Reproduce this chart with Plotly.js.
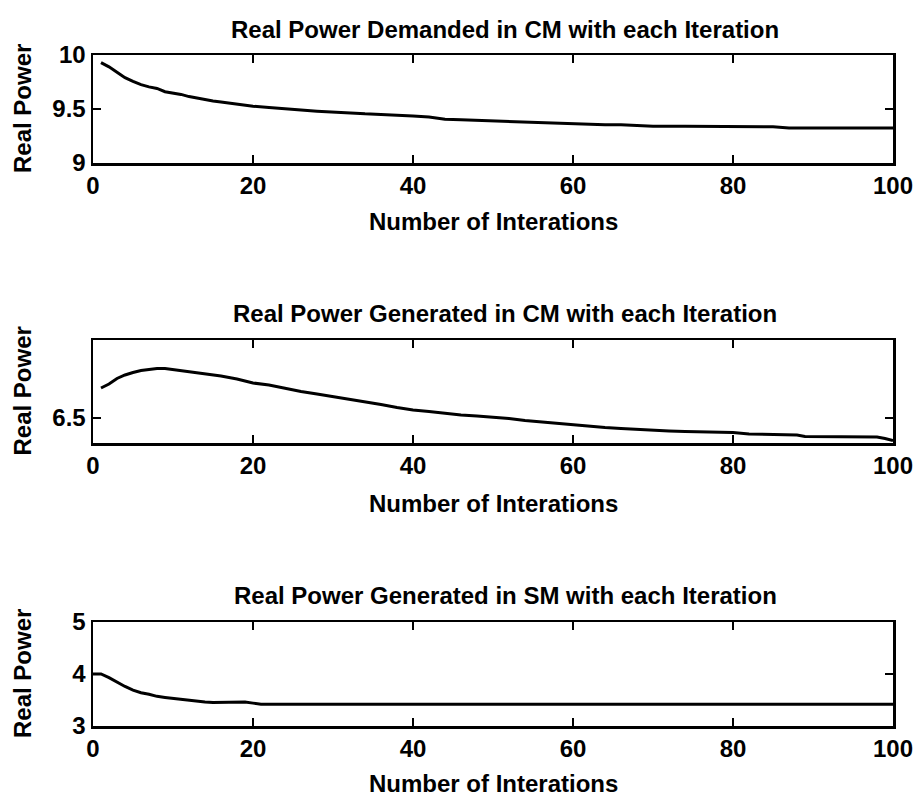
<!DOCTYPE html>
<html>
<head>
<meta charset="utf-8">
<script src="https://cdn.plot.ly/plotly-3.0.1.min.js"></script>
<style>html,body{margin:0;padding:0;background:#fff;} #chart{width:921px;height:796px;}</style>
</head>
<body>
<div id="chart"></div>
<script>
// ---- Data ----
const titles = [
  "Real Power Demanded in CM with each Iteration",
  "Real Power Generated in CM with each Iteration",
  "Real Power Generated in SM with each Iteration"
];
const xAxisTitle = "Number of Interations";
const yAxisTitle = "Real Power";

const xTickVals = [0, 20, 40, 60, 80, 100];
const xTickText = ["0", "20", "40", "60", "80", "100"];

const y1TickVals = [9, 9.5, 10];
const y1TickText = ["9", "9.5", "10"];
const y2TickVals = [6.5];
const y2TickText = ["6.5"];
const y3TickVals = [3, 4, 5];
const y3TickText = ["3", "4", "5"];

// Real Power Demanded in CM
const iterDemandCM = [1,2,3,4,5,6,7,8,9,10,11,12,13,14,15,16,17,18,19,20,22,24,26,28,30,32,34,36,38,40,42,44,46,48,50,52,54,56,58,60,62,64,66,68,70,74,78,82,85,87,90,95,100];
const powerDemandCM = [9.93,9.89,9.84,9.79,9.755,9.725,9.705,9.69,9.66,9.65,9.635,9.615,9.60,9.585,9.575,9.565,9.555,9.545,9.535,9.525,9.515,9.50,9.49,9.48,9.47,9.465,9.455,9.45,9.445,9.435,9.425,9.405,9.40,9.395,9.39,9.385,9.38,9.375,9.37,9.36,9.355,9.355,9.355,9.35,9.34,9.34,9.34,9.34,9.335,9.325,9.325,9.325,9.325];

// Real Power Generated in CM
const iterGenCM = [1,2,3,4,5,6,7,8,9,10,12,14,16,18,20,22,24,26,28,30,32,34,36,38,40,42,44,46,48,50,52,54,56,58,60,62,64,66,68,70,72,74,76,78,80,82,84,86,88,89,92,95,98,99,100];
const powerGenCM = [6.560,6.568,6.579,6.586,6.591,6.595,6.597,6.599,6.599,6.597,6.593,6.588,6.584,6.578,6.570,6.566,6.559,6.553,6.548,6.543,6.537,6.532,6.527,6.521,6.516,6.513,6.509,6.506,6.504,6.502,6.499,6.495,6.492,6.489,6.486,6.484,6.481,6.479,6.477,6.475,6.474,6.473,6.472,6.471,6.471,6.468,6.467,6.467,6.466,6.463,6.463,6.463,6.462,6.459,6.455];

// Real Power Generated in SM
const iterGenSM = [0,1,2,3,4,5,6,7,8,9,10,11,12,13,14,15,16,17,18,19,20,21,25,30,40,50,60,70,80,90,100];
const powerGenSM = [4.00,4.00,3.93,3.84,3.76,3.69,3.64,3.61,3.57,3.55,3.53,3.51,3.50,3.48,3.46,3.45,3.45,3.45,3.45,3.46,3.44,3.42,3.42,3.42,3.42,3.42,3.42,3.42,3.42,3.42,3.42];

// ---- Layout geometry (pixels in the 921x796 canvas) ----
const W = 921, H = 796;
const xDom = [93 / W, 893 / W];
const plotsPx = [[55, 163], [340, 443], [622, 726]]; // top, bottom
const yDoms = plotsPx.map(p => [1 - p[1] / H, 1 - p[0] / H]);

const FONT = "Liberation Sans, Arial, Helvetica, sans-serif";
const FS = 24;
const FW = "bold";

const lineStyle = {color: "#000", width: 3};
const traces = [
  {x: iterDemandCM, y: powerDemandCM, xaxis: "x", yaxis: "y", mode: "lines", line: lineStyle, showlegend: false},
  {x: iterGenCM, y: powerGenCM, xaxis: "x2", yaxis: "y2", mode: "lines", line: lineStyle, showlegend: false},
  {x: iterGenSM, y: powerGenSM, xaxis: "x3", yaxis: "y3", mode: "lines", line: lineStyle, showlegend: false}
];

function xAxis(anchor) {
  return {
    domain: xDom, anchor: anchor, range: [0, 100],
    tickmode: "array", tickvals: xTickVals, ticktext: xTickText,
    ticks: "inside", ticklen: 8, tickwidth: 2.5, tickcolor: "#000",
    showline: true, linecolor: "#000", linewidth: 2.5, mirror: "allticks",
    showgrid: false, zeroline: false,
    tickfont: {family: FONT, size: FS, color: "#000", weight: FW}
  };
}
function yAxis(anchor, dom, range, tv, tt) {
  return {
    domain: dom, anchor: anchor, range: range,
    tickmode: "array", tickvals: tv, ticktext: tt,
    ticks: "inside", ticklen: 8, tickwidth: 2.5, tickcolor: "#000",
    showline: true, linecolor: "#000", linewidth: 2.5, mirror: "allticks",
    showgrid: false, zeroline: false,
    tickfont: {family: FONT, size: FS, color: "#000", weight: FW}
  };
}

const annotations = [];
const titleY = [30, 313, 595];
const xTitleY = [222, 503, 783];
const titleCX = 505 / W;
for (let i = 0; i < 3; i++) {
  annotations.push({
    text: titles[i], xref: "paper", yref: "paper",
    x: titleCX, y: 1 - titleY[i] / H,
    xanchor: "center", yanchor: "middle", showarrow: false,
    font: {family: FONT, size: FS, color: "#000", weight: FW}
  });
  annotations.push({
    text: xAxisTitle, xref: "paper", yref: "paper",
    x: 0.5 * (xDom[0] + xDom[1]), y: 1 - xTitleY[i] / H,
    xanchor: "center", yanchor: "middle", showarrow: false,
    font: {family: FONT, size: FS, color: "#000", weight: FW}
  });
  annotations.push({
    text: yAxisTitle, xref: "paper", yref: "paper",
    x: 22 / W, y: 0.5 * (yDoms[i][0] + yDoms[i][1]),
    xanchor: "center", yanchor: "middle", textangle: -90, showarrow: false,
    font: {family: FONT, size: FS, color: "#000", weight: FW}
  });
}

const layout = {
  width: W, height: H,
  margin: {l: 0, r: 0, t: 0, b: 0},
  paper_bgcolor: "#fff", plot_bgcolor: "#fff",
  showlegend: false,
  xaxis: xAxis("y"),
  yaxis: yAxis("x", yDoms[0], [9, 10], y1TickVals, y1TickText),
  xaxis2: xAxis("y2"),
  yaxis2: yAxis("x2", yDoms[1], [6.45, 6.656], y2TickVals, y2TickText),
  xaxis3: xAxis("y3"),
  yaxis3: yAxis("x3", yDoms[2], [3, 5], y3TickVals, y3TickText),
  annotations: annotations
};

Plotly.newPlot("chart", traces, layout, {staticPlot: true, displayModeBar: false});
</script>
</body>
</html>
